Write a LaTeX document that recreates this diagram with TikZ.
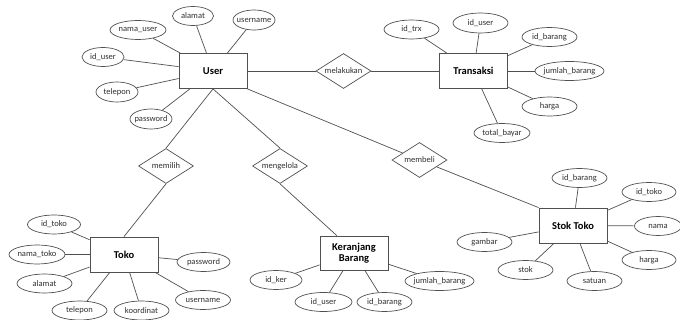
\documentclass[tikz,border=0pt]{standalone}
\usepackage{fontspec}
\setmainfont{Carlito}
\usetikzlibrary{shapes.geometric,calc}
\newcommand\zb[1]{\makebox[0pt]{#1}}
\definecolor{ln}{HTML}{505050}
\definecolor{tx}{HTML}{303030}
\tikzset{
  ent/.style={draw=ln, line width=0.8pt, rectangle, minimum width=68pt, minimum height=35pt, inner sep=1pt, font=\fontsize{10.5}{11}\selectfont\bfseries, text=black, align=center},
  attr/.style={draw=ln, line width=0.7pt, ellipse, minimum width=55pt, minimum height=19pt, inner sep=0pt, font=\fontsize{8.5}{9}\selectfont, text=tx},
  rel/.style={draw=ln, line width=0.7pt, diamond, aspect=1.57, minimum width=55pt, minimum height=35pt, inner sep=0pt, font=\fontsize{8.5}{9}\selectfont, text=tx},
  con/.style={draw=ln, line width=0.7pt}
}
\begin{document}
\begin{tikzpicture}[x=1pt,y=-1pt]
\useasboundingbox (0,0) rectangle (680,320);
\fill[white] (0,0) rectangle (680,320);
% entities
\node[ent] (user) at (213,71) {User};
\node[ent] (trx) at (473.5,71) {Transaksi};
\node[ent] (toko) at (124,254.5) {Toko};
\node[ent, minimum height=34pt] (ker) at (354,253) {Keranjang\\Barang};
\node[ent] (stok) at (573,225.5) {Stok Toko};
% relations
\node[rel] (melakukan) at (343.5,71) {melakukan};
\node[rel] (memilih) at (166,166) {memilih};
\node[rel] (mengelola) at (280,166) {mengelola};
\node[rel] (membeli) at (419.5,160) {membeli};
% user attributes
\node[attr, minimum width=41pt] (u1) at (193,16) {\zb{alamat}};
\node[attr, minimum width=42pt, minimum height=20pt] (u2) at (254,20) {\zb{username}};
\node[attr, minimum width=56pt] (u3) at (138,30) {\zb{nama\_user}};
\node[attr, minimum width=42pt] (u4) at (103,57) {\zb{id\_user}};
\node[attr, minimum width=42pt, minimum height=20pt] (u5) at (117,92) {\zb{telepon}};
\node[attr, minimum width=42pt, minimum height=20pt] (u6) at (151,119) {\zb{password}};
% transaksi attributes
\node[attr] (t1) at (411.5,29.5) {\zb{id\_trx}};
\node[attr, minimum height=20pt] (t2) at (480.5,23) {\zb{id\_user}};
\node[attr] (t3) at (549.5,37) {\zb{id\_barang}};
\node[attr, minimum width=69pt] (t4) at (569.5,71) {\zb{jumlah\_barang}};
\node[attr] (t5) at (549.5,106.5) {\zb{harga}};
\node[attr, minimum width=56pt] (t6) at (502,133) {\zb{total\_bayar}};
% toko attributes
\node[attr, minimum width=53pt] (k1) at (54,224.5) {\zb{id\_toko}};
\node[attr, minimum width=56pt] (k2) at (37,254.5) {\zb{nama\_toko}};
\node[attr] (k3) at (44.5,283.5) {\zb{alamat}};
\node[attr] (k4) at (79.5,310.5) {\zb{telepon}};
\node[attr] (k5) at (141.5,310.5) {\zb{koordinat}};
\node[attr] (k6) at (203,300) {\zb{username}};
\node[attr, minimum width=53pt] (k7) at (203.5,262) {\zb{password}};
% keranjang attributes
\node[attr, minimum width=52pt] (r1) at (276,280) {\zb{id\_ker}};
\node[attr, minimum width=57pt] (r2) at (323.5,302) {\zb{id\_user}};
\node[attr] (r3) at (384.5,302) {\zb{id\_barang}};
\node[attr, minimum width=69pt] (r4) at (439.5,281) {\zb{jumlah\_barang}};
% stok attributes
\node[attr] (s1) at (579.5,178) {\zb{id\_barang}};
\node[attr, minimum width=54pt] (s2) at (649,192) {\zb{id\_toko}};
\node[attr, minimum width=47pt] (s3) at (658,226) {\zb{nama}};
\node[attr, minimum width=54pt] (s4) at (649,260) {\zb{harga}};
\node[attr] (s5) at (594.5,281) {\zb{satuan}};
\node[attr] (s6) at (525.5,270) {\zb{stok}};
\node[attr] (s7) at (484.5,242) {\zb{gambar}};
% relationship connectors
\draw[con] (user) -- (melakukan);
\draw[con] (melakukan) -- (trx);
\draw[con] (user.south) -- (memilih.north);
\draw[con] (memilih.south) -- (toko.north);
\draw[con] (user.south) -- (mengelola.north);
\coordinate (kertop) at ($(ker.north west)!0.25!(ker.north east)$);
\draw[con] (mengelola.south) -- (kertop);
\draw[con] (user.south east) -- (membeli);
\draw[con] (membeli) -- (stok.north west);
% attribute connectors
\foreach \a in {u1,u2,u3,u4,u5,u6} \draw[con] (\a) -- (user);
\foreach \a in {t1,t2,t3,t4,t5,t6} \draw[con] (\a) -- (trx);
\foreach \a in {k1,k2,k3,k4,k5,k6,k7} \draw[con] (\a) -- (toko);
\foreach \a in {r1,r2,r3,r4} \draw[con] (\a) -- (ker);
\foreach \a in {s1,s2,s3,s4,s5,s6,s7} \draw[con] (\a) -- (stok);
\end{tikzpicture}
\end{document}
